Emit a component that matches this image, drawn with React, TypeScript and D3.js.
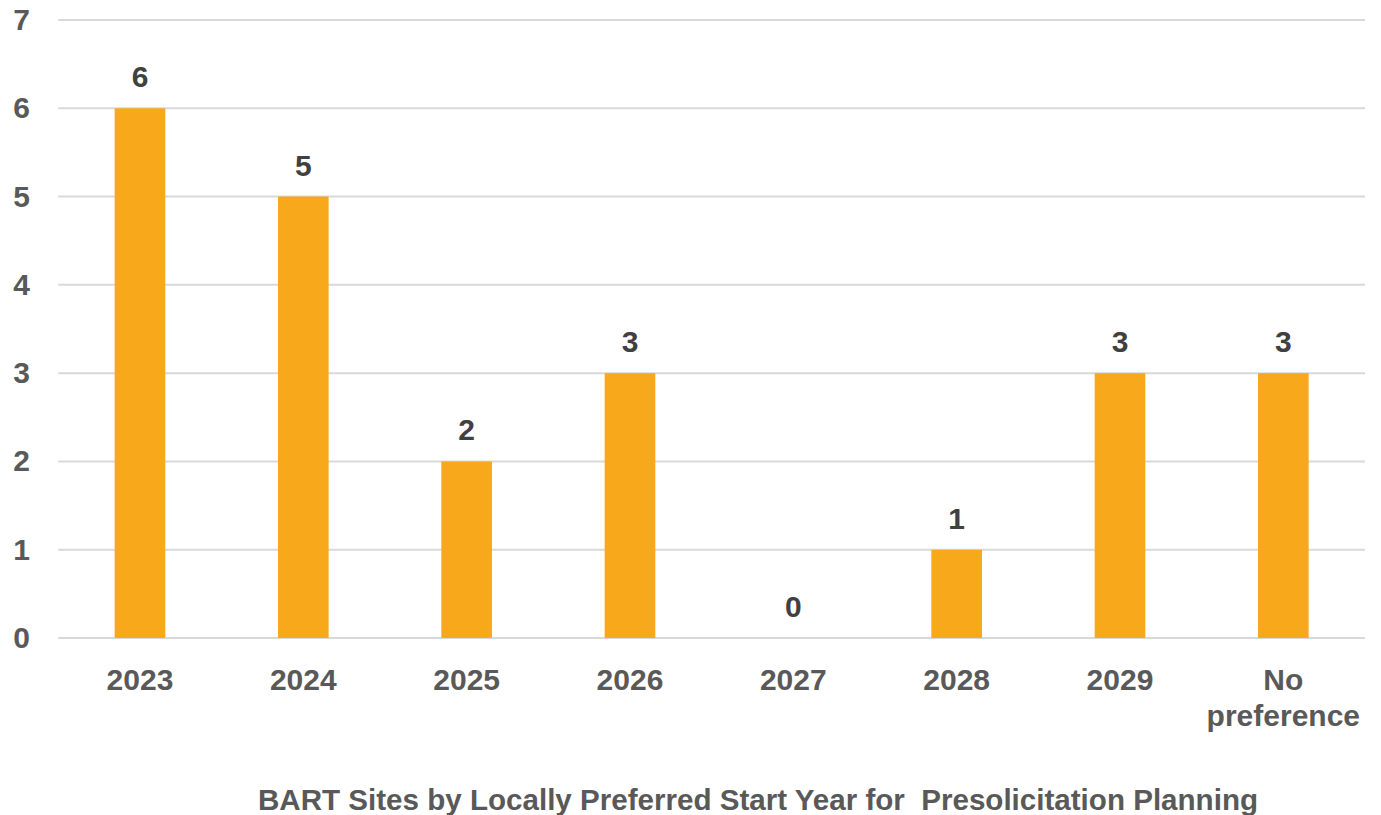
import React from "react";
import * as d3 from "d3";

const categories = ["2023", "2024", "2025", "2026", "2027", "2028", "2029", "No preference"];
const values = [6, 5, 2, 3, 0, 1, 3, 3];
const yTicks = [0, 1, 2, 3, 4, 5, 6, 7];
const title = "BART Sites by Locally Preferred Start Year for  Presolicitation Planning";

const W = 1381;
const H = 815;
const left = 58.3;
const right = 1365;
const top = 20;
const bottom = 638;
const textColor = "#595959";
const font = "'Liberation Sans', Arial, sans-serif";
const narrow = "'Liberation Sans Narrow', 'Arial Narrow', 'Liberation Sans', sans-serif";

export default function App() {
  const x = d3.scaleBand<string>().domain(categories).range([left, right]).paddingInner(0.69).paddingOuter(0.345);
  const y = d3.scaleLinear().domain([0, 7]).range([bottom, top]);

  return (
    <svg width={W} height={H} style={{ position: "absolute", left: 0, top: 0 }}>
      <rect width={W} height={H} fill="#ffffff" />
      {yTicks.map((t) => (
        <g key={t}>
          <line x1={left} x2={right} y1={y(t)} y2={y(t)} stroke="#D9D9D9" strokeWidth={2} />
          <text x={30} y={y(t) + 10} textAnchor="end" fontFamily={font} fontWeight="bold" fontSize={30} fill={textColor}>
            {t}
          </text>
        </g>
      ))}
      {categories.map((c, i) => {
        const v = values[i];
        const bx = x(c)!;
        const cx = bx + x.bandwidth() / 2;
        const words = c.split(" ");
        return (
          <g key={c}>
            {v > 0 && <rect x={bx} y={y(v)} width={x.bandwidth()} height={y(0) - y(v)} fill="#F7A81B" />}
            <text x={cx} y={y(v) - 21} textAnchor="middle" fontFamily={font} fontWeight="bold" fontSize={30} fill="#404040">
              {v}
            </text>
            {words.map((w, j) => (
              <text key={j} x={cx} y={690 + j * 36} textAnchor="middle" fontFamily={font} fontWeight="bold" fontSize={30} fill={textColor}>
                {w}
              </text>
            ))}
          </g>
        );
      })}
      <text x={758} y={810} textAnchor="middle" fontFamily={narrow} fontWeight="bold" fontSize={29} fill={textColor} textLength={1000} lengthAdjust="spacingAndGlyphs" style={{ whiteSpace: "pre" }}>
        {title}
      </text>
    </svg>
  );
}
